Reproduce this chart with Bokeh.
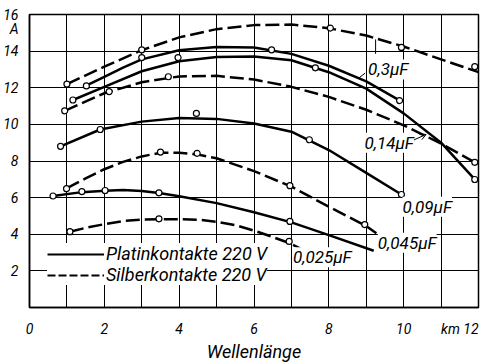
from bokeh.plotting import figure
from bokeh.models import (Range1d, FixedTicker, Label, Legend, LegendItem, Arrow,
                          OpenHead)
from bokeh.embed import file_html
from bokeh.resources import INLINE

FONT = "Roboto"

# ---------------- data ----------------
# x: Wellenlänge [km], y: Strom [A]
# curves (solid = Platinkontakte, dashed = Silberkontakte)
ag_03_x = [1.0, 2, 3, 4, 5, 6, 7, 8, 9, 10, 11, 12]
ag_03_y = [12.2, 13.15, 14.05, 14.75, 15.2, 15.42, 15.45, 15.25, 14.85, 14.25, 13.55, 12.85]
ag_03_px = [1.0, 3.0, 8.04, 9.94, 11.9]
ag_03_py = [12.2, 14.07, 15.26, 14.2, 13.15]

pt_03_x = [1.5, 2, 2.5, 3, 4, 5, 6, 7, 8, 9, 9.9]
pt_03_y = [12.1, 12.6, 13.1, 13.55, 14.05, 14.22, 14.2, 13.85, 13.2, 12.35, 11.3]
pt_03_px = [1.52, 3.0, 6.47, 9.89]
pt_03_py = [12.1, 13.65, 14.07, 11.3]

pt_014_x = [1.16, 2, 3, 4, 5, 6, 7, 8, 9, 10, 11, 11.9]
pt_014_y = [11.33, 12.05, 12.9, 13.45, 13.68, 13.7, 13.5, 12.85, 11.95, 10.6, 9.0, 7.0]
pt_014_px = [1.16, 3.97, 7.64, 11.9]
pt_014_py = [11.33, 13.65, 13.09, 6.99]

ag_014_x = [0.94, 2, 3, 4, 5, 6, 7, 8, 9, 10, 11, 11.9]
ag_014_y = [10.74, 11.7, 12.3, 12.62, 12.65, 12.45, 12.05, 11.5, 10.8, 9.95, 8.95, 7.93]
ag_014_px = [0.94, 2.13, 3.71, 11.9]
ag_014_py = [10.74, 11.79, 12.6, 7.93]

pt_009_x = [0.83, 1.89, 3, 4, 5, 6, 7, 8, 9, 9.94]
pt_009_y = [8.8, 9.72, 10.15, 10.35, 10.3, 10.05, 9.6, 8.6, 7.35, 6.17]
pt_009_px = [0.83, 1.89, 4.46, 7.48, 9.94]
pt_009_py = [8.8, 9.72, 10.6, 9.16, 6.17]

ag_0045_x = [0.99, 1.5, 2, 2.5, 3, 3.5, 4, 4.5, 5, 6, 7, 8, 9, 9.27]
ag_0045_y = [6.5, 7.05, 7.55, 7.95, 8.25, 8.45, 8.45, 8.35, 8.15, 7.45, 6.6, 5.5, 4.45, 4.05]
ag_0045_px = [0.99, 3.5, 4.48, 6.96, 8.96]
ag_0045_py = [6.49, 8.49, 8.42, 6.65, 4.53]

pt_0045_x = [0.63, 1.4, 2.02, 2.5, 3, 3.46, 4, 5, 6, 7, 8, 9.2]
pt_0045_y = [6.09, 6.3, 6.38, 6.42, 6.36, 6.25, 6.08, 5.7, 5.2, 4.65, 3.95, 3.1]
pt_0045_px = [0.63, 1.4, 2.02, 3.46, 6.96]
pt_0045_py = [6.09, 6.33, 6.39, 6.26, 4.7]

ag_0025_x = [1.08, 1.5, 2, 2.5, 3, 3.5, 4, 4.6, 5, 5.5, 6, 6.5, 6.94, 7.24]
ag_0025_y = [4.14, 4.35, 4.55, 4.72, 4.8, 4.82, 4.82, 4.78, 4.68, 4.5, 4.2, 3.85, 3.52, 3.22]
ag_0025_px = [1.08, 3.46, 6.94]
ag_0025_py = [4.14, 4.84, 3.61]

# curve labels
cap_labels = ["0,3\u00b5F", "0,14\u00b5F", "0,09\u00b5F", "0,045\u00b5F", "0,025\u00b5F"]
cap_label_x = [9.05, 8.95, 9.97, 9.31, 7.04]
cap_label_y = [13.0, 9.0, 5.5, 3.53, 2.74]

# ticks (the unit labels sit between the numbers, as in the original)
x_tick_values = [0, 2, 4, 6, 8, 10, 11.5]
x_tick_labels = {0: "0", 2: "2", 4: "4", 6: "6", 8: "8", 10: "10", 11.5: "km 12"}
y_tick_values = [2, 4, 6, 8, 10, 12, 14, 15.2, 16]
y_tick_labels = {15.2: "A"}
x_grid = list(range(0, 13))
y_grid = [0, 2, 4, 6, 8, 10, 12, 14, 16]
x_title = "Wellenlänge"
legend_labels = ["Platinkontakte 220 V", "Silberkontakte 220 V"]

# ---------------- figure ----------------
p = figure(width=482, height=364, output_backend="svg", toolbar_location=None,
           x_range=Range1d(0, 12), y_range=Range1d(0, 16),
           min_border_left=25, min_border_right=4, min_border_top=14,
           min_border_bottom=46)
p.outline_line_color = "black"
p.outline_line_width = 1.5
p.background_fill_color = "white"
p.border_fill_color = "white"

p.xgrid.ticker = FixedTicker(ticks=x_grid)
p.ygrid.ticker = FixedTicker(ticks=y_grid)
for g in (p.xgrid, p.ygrid):
    g.grid_line_color = "black"
    g.grid_line_width = 1

for ax in (p.xaxis, p.yaxis):
    ax.axis_line_color = "black"
    ax.axis_line_width = 1.5
    ax.major_tick_line_color = None
    ax.minor_tick_line_color = None
    ax.major_label_text_font = FONT
    ax.major_label_text_font_style = "italic"
    ax.major_label_text_font_size = "14px"
    ax.major_label_text_color = "black"

p.xaxis.ticker = FixedTicker(ticks=x_tick_values)
p.xaxis.major_label_overrides = x_tick_labels
p.xaxis.major_label_standoff = 7
p.yaxis.ticker = FixedTicker(ticks=y_tick_values)
p.yaxis.major_label_overrides = y_tick_labels
p.yaxis.major_label_standoff = 5
p.xaxis.axis_label = x_title
p.xaxis.axis_label_text_font = FONT
p.xaxis.axis_label_text_font_style = "italic"
p.xaxis.axis_label_text_font_size = "18px"
p.xaxis.axis_label_text_color = "black"
p.xaxis.axis_label_standoff = 1

DASH = "14 5"
LW = 2.5

def curve(xs, ys, px, py, dashed):
    r = p.line(xs, ys, line_color="black", line_width=LW,
               line_dash=DASH if dashed else "solid")
    p.scatter(px, py, size=6, marker="circle", fill_color="white",
              line_color="black", line_width=1.2)
    return r

curve(ag_03_x, ag_03_y, ag_03_px, ag_03_py, True)
curve(pt_03_x, pt_03_y, pt_03_px, pt_03_py, False)
curve(pt_014_x, pt_014_y, pt_014_px, pt_014_py, False)
curve(ag_014_x, ag_014_y, ag_014_px, ag_014_py, True)
curve(pt_009_x, pt_009_y, pt_009_px, pt_009_py, False)
curve(ag_0045_x, ag_0045_y, ag_0045_px, ag_0045_py, True)
curve(pt_0045_x, pt_0045_y, pt_0045_px, pt_0045_py, False)
curve(ag_0025_x, ag_0025_y, ag_0025_px, ag_0025_py, True)

# legend keys (the key dashes are shorter than on the curves); no visible data
NAN = float("nan")
key_solid = p.line([NAN], [NAN], line_color="black", line_width=2.2)
key_dash = p.line([NAN], [NAN], line_color="black", line_width=2.2, line_dash="8 3")

# leader lines for the labels
p.segment(x0=[8.97, 9.25], y0=[12.8, 14.64], x1=[8.78, 9.25], y1=[12.5, 13.85],
          line_color="black", line_width=1)
p.add_layout(Arrow(end=OpenHead(size=6, line_width=1, line_color="black"),
                   x_start=10.22, y_start=9.1, x_end=10.6, y_end=9.45,
                   line_color="black", line_width=1))

for t, lx, ly in zip(cap_labels, cap_label_x, cap_label_y):
    p.add_layout(Label(x=lx, y=ly, text=t, text_align="left", text_baseline="middle",
                       text_font=FONT, text_font_style="italic", text_font_size="17px",
                       text_color="black", background_fill_color="white",
                       background_fill_alpha=1))

legend = Legend(items=[LegendItem(label=legend_labels[0], renderers=[key_solid]),
                       LegendItem(label=legend_labels[1], renderers=[key_dash])],
                location=(18, 22), glyph_width=57, glyph_height=18, label_height=18,
                spacing=0, padding=2, margin=0, label_standoff=2,
                border_line_color=None, background_fill_color="white",
                background_fill_alpha=1, label_text_font=FONT,
                label_text_color="black",
                label_text_font_style="italic", label_text_font_size="18px")
p.add_layout(legend)

open("out.html", "w").write(file_html(p, INLINE))
